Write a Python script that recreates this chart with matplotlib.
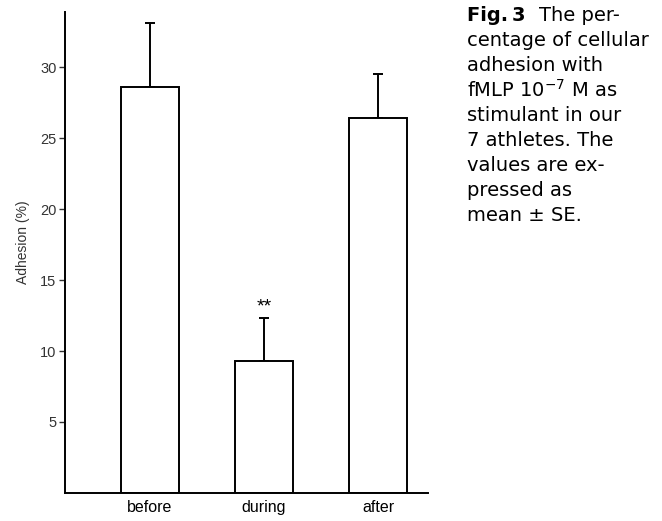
import numpy as np
import matplotlib
matplotlib.use('Agg')
import matplotlib.pyplot as plt

plt.rcParams['font.family'] = ['Liberation Sans', 'DejaVu Sans']

# values
groups = ['before', 'during', 'after']
adhesion = [28.6, 9.3, 26.4]
se = [4.5, 3.0, 3.1]
y_ticks = [5, 10, 15, 20, 25, 30]

caption = ["The per-", "centage of cellular", "adhesion with",
           "fMLP 10$^{\u22127}$ M as", "stimulant in our",
           "7 athletes. The", "values are ex-", "pressed as",
           "mean \u00b1 SE."]

fig = plt.figure(figsize=(6.62, 5.21), dpi=100)
ax = fig.add_axes([0.098, 0.054, 0.549, 0.923])

x = np.arange(len(groups))
ax.bar(x, adhesion, width=0.505, color='white', edgecolor='black',
       linewidth=1.4, zorder=2)
ax.errorbar(x, adhesion, yerr=[np.zeros(len(se)), se], fmt='none',
            ecolor='black', elinewidth=1.4, capsize=3.5, capthick=1.4,
            zorder=1)
ax.text(x[1], adhesion[1] + se[1] + 0.2, '**', ha='center', va='bottom',
        fontsize=14)

ax.set_xlim(-0.746, 2.44)
ax.set_ylim(0, 33.9)
ax.set_yticks(y_ticks)
ax.set_xticks(x)
ax.set_xticklabels(groups, fontsize=11.5)
ax.tick_params(axis='x', length=0, pad=5)
ax.tick_params(axis='y', direction='out', length=4, width=1, labelsize=10.5,
               pad=2, colors='#333333', labelcolor='#333333')
ax.set_ylabel('Adhesion (%)', fontsize=10, color='#333333')
ax.yaxis.label.set_verticalalignment('center')
ax.yaxis.set_label_coords(-0.116, 0.522)
for side in ['top', 'right']:
    ax.spines[side].set_visible(False)
for side in ['left', 'bottom']:
    ax.spines[side].set_linewidth(1.4)

# caption block on the right
cap_font = ['DejaVu Sans']
fig.text(0.705, 0.971, 'Fig.\u20093', fontsize=14, fontweight='bold',
         va='center', ha='left', family=cap_font)
fig.text(0.814, 0.971, caption[0], fontsize=14, va='center', ha='left',
         family=cap_font)
for i, line in enumerate(caption[1:]):
    fig.text(0.705, 0.923 - i * 0.048, line, fontsize=14, va='center',
             ha='left', family=cap_font)

fig.savefig('out.png', dpi=100)
